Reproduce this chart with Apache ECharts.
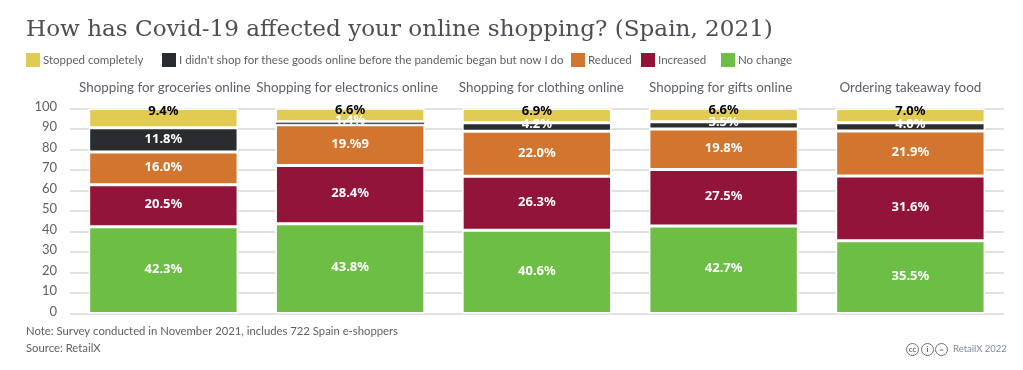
<!DOCTYPE html>
<html><head><meta charset="utf-8">
<style>html,body{margin:0;padding:0;background:#fff}#c{width:1023px;height:370px}</style>
<script src="https://cdn.jsdelivr.net/npm/echarts@6/dist/echarts.min.js"></script>
</head><body><div id="c"></div>
<script>
const categories = ["Shopping for groceries online","Shopping for electronics online","Shopping for clothing online","Shopping for gifts online","Ordering takeaway food"];
const noChange = [42.3,43.8,40.6,42.7,35.5];
const increased = [20.5,28.4,26.3,27.5,31.6];
const reduced = [16.0,19.9,22.0,19.8,21.9];
const didntShop = [11.8,1.4,4.2,3.5,4.0];
const stopped = [9.4,6.6,6.9,6.6,7.0];
const yTicks = [0,10,20,30,40,50,60,70,80,90,100];
const seriesNames = ["No change","Increased","Reduced","I didn't shop for these goods online before the pandemic began but now I do","Stopped completely"];
const seriesColors = ["#6dbe45","#921439","#d2752f","#2a2d30","#e2cb52"];
const labelTextOverrides = {"19.9":"19.%9"};

const BODY = "Lato, 'Noto Sans', sans-serif";
const GREY = "#5c6168";
const fmt = p => labelTextOverrides[String(p.value)] || p.value.toFixed(1) + "%";

const values = [noChange,increased,reduced,didntShop,stopped];
const series = values.map((data,i)=>({
  name: seriesNames[i], type:"bar", stack:"total", barWidth:"80%",
  itemStyle:{color:seriesColors[i],borderColor:"#fff",borderWidth:1.5},
  data: data.map(v=>{
    const small = i===3 && v<5;
    const thin = i===3 && v<2;
    return {value:v,
      itemStyle: thin ? {borderWidth:0.8} : undefined,
      label:{
      show:true, formatter:fmt, fontFamily:"'Noto Sans',sans-serif", fontSize:13, fontWeight:"bold",
      color: i===4 ? "#000" : "#fff",
      position: i===4 ? "insideTop" : "inside",
      offset: i===4 ? [0,-9] : (small ? [0,-3] : [0,-1])
    }};
  })
}));
const legendLefts = [26,162,571,641,721];
const legendOrder = [4,3,2,1,0];
const legend = legendOrder.map((s,k)=>({
  left:legendLefts[k], top:53, padding:0, itemWidth:14, itemHeight:14, itemGap:3,
  icon:"rect", data:[seriesNames[s]], selectedMode:false,
  itemStyle:{borderWidth:0},
  textStyle:{fontFamily:BODY,fontSize:11.5,color:GREY,padding:[0,0,0,-2]}
}));
const catStyle = {fontFamily:BODY,fontSize:13.4,color:GREY};
const chart = echarts.init(document.getElementById("c"),null,{renderer:"canvas"});
chart.setOption({
  animation:false, backgroundColor:"#fff",
  title:[
    {text:"How has Covid-19 affected your online shopping? (Spain, 2021)",left:26,top:18,padding:0,
     textStyle:{fontFamily:"'DejaVu Serif',serif",fontWeight:"normal",fontSize:23.1,color:"#4a4f55"}},
    {text:"Note: Survey conducted in November 2021, includes 722 Spain e-shoppers",left:26,top:326,padding:0,
     textStyle:{fontFamily:BODY,fontWeight:"normal",fontSize:11.3,color:GREY}},
    {text:"Source: RetailX",left:26,top:343,padding:0,
     textStyle:{fontFamily:BODY,fontWeight:"normal",fontSize:11.3,color:GREY}},
    {text:"RetailX 2022",left:953,top:344,padding:0,
     textStyle:{fontFamily:BODY,fontWeight:"normal",fontSize:9.5,color:"#7f8a99"}}
  ],
  legend,
  grid:{left:70,right:19.25,top:108.5,bottom:56.5,containLabel:false},
  xAxis:{type:"category",position:"top",data:categories,
    axisLine:{show:false},axisTick:{show:false},
    axisLabel:{interval:0,margin:14,...catStyle,
      formatter:(v,i)=>`{c${i}|${v}}`,
      rich:{
        c0:{...catStyle,padding:[0,0,0,3]},
        c1:{...catStyle,padding:[0,6,0,0]},
        c2:{...catStyle,padding:[0,0,0,9]},
        c3:{...catStyle,padding:[0,6,0,0]},
        c4:{...catStyle}
      }}},
  yAxis:{type:"value",min:0,max:100,interval:10,
    axisLine:{show:false},axisTick:{show:false},
    axisLabel:{margin:13,fontFamily:BODY,fontSize:13,color:GREY,verticalAlign:"bottom",lineHeight:4,
      formatter:v=>yTicks.includes(v)?String(v):""},
    splitLine:{show:true,lineStyle:{color:"#e1e1e1",width:2}}},
  series,
  graphic:[906,921,935].map((l,i)=>({type:"group",left:l,top:343,children:[
    {type:"circle",shape:{cx:6.5,cy:6.5,r:6},style:{fill:"#fff",stroke:"#6a6f75",lineWidth:1}},
    {type:"text",style:{x:6.5,y:6.5,text:["cc","i","="][i],fill:"#6a6f75",fontSize:8,fontWeight:"bold",fontFamily:BODY,align:"center",verticalAlign:"middle"}}
  ]}))
});
</script></body></html>
